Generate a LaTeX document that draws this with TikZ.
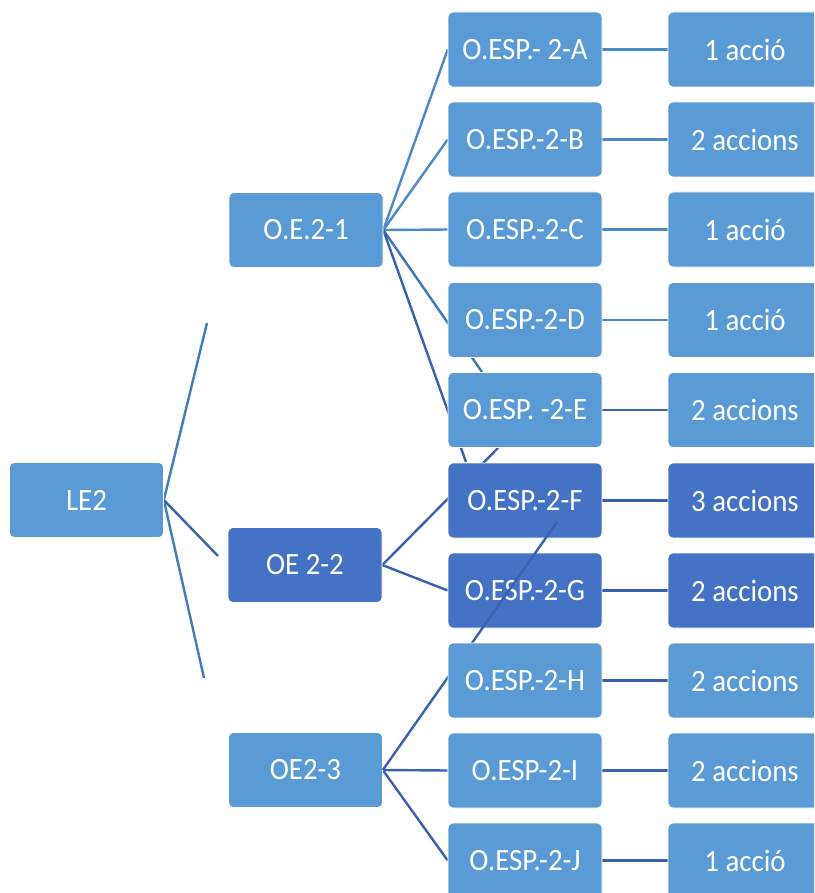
\documentclass[tikz,border=0pt]{standalone}
\usepackage{fontspec}
\newfontfamily\boxfont{Carlito}[FakeStretch=0.93]
\usetikzlibrary{positioning}
\definecolor{boxlight}{HTML}{5B9BD5}
\definecolor{boxdark}{HTML}{4472C4}
\definecolor{linelight}{HTML}{4B8AC6}
\definecolor{linemid}{HTML}{3E76BC}
\definecolor{linedark}{HTML}{3862AF}
\definecolor{lineleft}{HTML}{3F7FB8}
\pgfdeclarelayer{background}
\pgfsetlayers{background,main}

\begin{document}
\begin{tikzpicture}[
		x=1pt, y=-1pt,
		box/.style={rectangle, rounded corners=5pt, minimum width=154pt, minimum height=75pt,
			inner sep=0pt, fill=boxlight, draw=white, line width=0.6pt, text=white,
			font=\boxfont\fontsize{31}{36}\selectfont},
		dark/.style={box, fill=boxdark},
		link/.style={line width=2.4pt, linelight},
		linkd/.style={line width=2.4pt, linedark}
		]
		\useasboundingbox (0,0) rectangle (814,893);
		\clip (0,0) rectangle (814,893);

		% level 1 and 2
		\node[box] (le2) at (86.5,500) {LE2};
		\node[box] (oe21) at (306,230) {O.E.2-1};
		\node[dark] (oe22) at (305,565) {OE 2-2};
		\node[box] (oe23) at (305.5,770) {OE2-3};

		% specific objectives
		\node[box] (espa) at (525,49.5) {O.ESP.- 2-A};
		\node[box] (espb) at (525,139.5) {O.ESP.-2-B};
		\node[box] (espc) at (525,229.5) {O.ESP.-2-C};
		\node[box] (espd) at (525,320) {O.ESP.-2-D};
		\node[box] (espe) at (525,410) {O.ESP. -2-E};
		\node[dark] (espf) at (525,500.5) {O.ESP.-2-F};
		\node[dark] (espg) at (525,590.5) {O.ESP.-2-G};
		% this one runs over F and G but under H
		\coordinate (hend) at (557,522);
		\draw[linkd] (oe23.east) -- (hend);
		\node[box] (esph) at (525,680.5) {O.ESP.-2-H};
		\node[box] (espi) at (525,770.5) {O.ESP-2-I};
		\node[box] (espj) at (525,860.5) {O.ESP.-2-J};

		% actions
		\node[box] (acta) at (745,49.5) {1 acció};
		\node[box] (actb) at (745,139.5) {2 accions};
		\node[box] (actc) at (745,229.5) {1 acció};
		\node[box] (actd) at (745,320) {1 acció};
		\node[box] (acte) at (745,410) {2 accions};
		\node[dark] (actf) at (745,500.5) {3 accions};
		\node[dark] (actg) at (745,590.5) {2 accions};
		\node[box] (acth) at (745,680.5) {2 accions};
		\node[box] (acti) at (745,770.5) {2 accions};
		\node[box] (actj) at (745,860.5) {1 acció};

		% free ends
		\coordinate (upend) at (207,323);
		\coordinate (midend) at (218,556);
		\coordinate (lowend) at (204,678);
		\coordinate (dend) at (482,372);
		\coordinate (eend) at (466,462);
		\coordinate (fend) at (498,448);

		\begin{pgfonlayer}{background}
			\draw[line width=2.4pt, lineleft] (le2.east) -- (upend);
			\draw[line width=2.4pt, lineleft] (le2.east) -- (lowend);
			\draw[line width=2.4pt, linedark] (le2.east) -- (midend);

			\foreach \c in {espa,espb,espc}
				\draw[link] (oe21.east) -- (\c.west);
			\draw[line width=2.4pt, linemid] (oe21.east) -- (dend);
			\draw[linkd] (oe21.east) -- (eend);

			\draw[linkd] (oe22.east) -- (fend);
			\draw[linkd] (oe22.east) -- (espg.west);

			\draw[linkd] (oe23.east) -- (espi.west);
			\draw[linkd] (oe23.east) -- (espj.west);

			\foreach \s/\t in {espa/acta,espb/actb,espc/actc,espd/actd}
				\draw[link] (\s.east) -- (\t.west);
			\foreach \s/\t in {espe/acte,espf/actf,espg/actg,esph/acth,espi/acti,espj/actj}
				\draw[linkd] (\s.east) -- (\t.west);
		\end{pgfonlayer}
	\end{tikzpicture}
\end{document}
